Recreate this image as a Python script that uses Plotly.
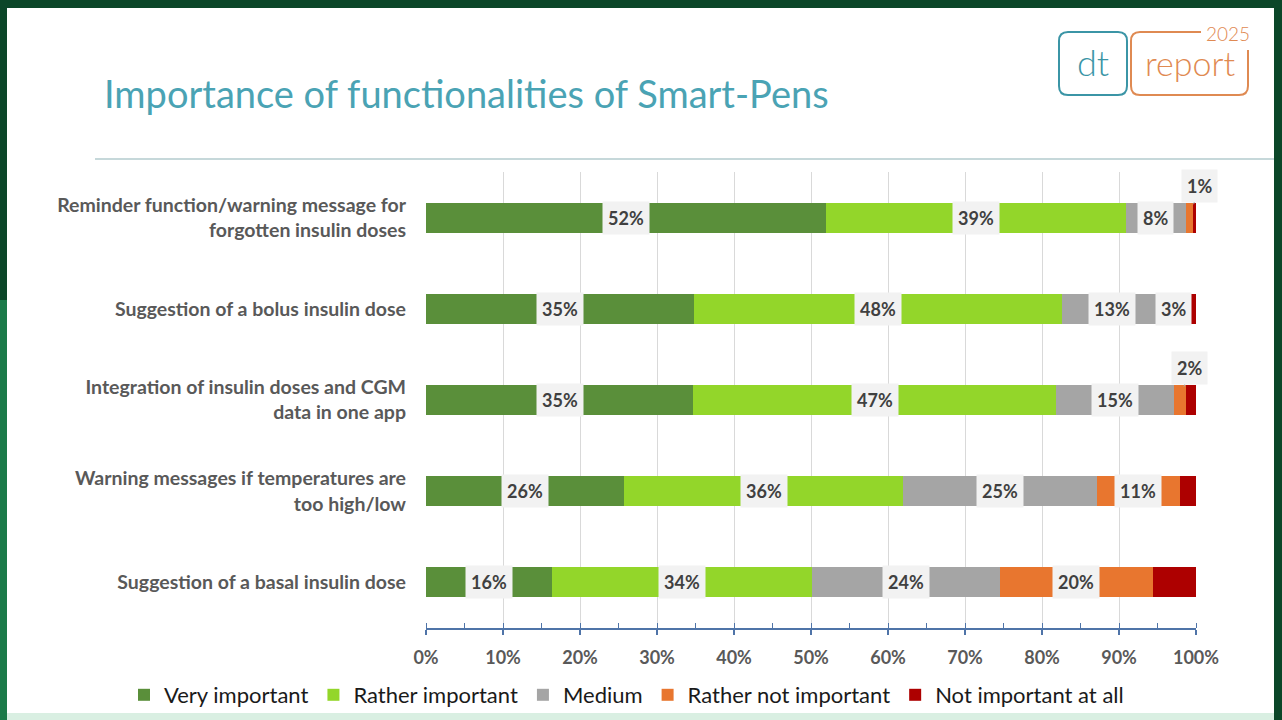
import plotly.graph_objects as go

# --- data (percent of respondents) ---
categories = [
    "Reminder function/warning message for<br>forgotten insulin doses",
    "Suggestion of a bolus insulin dose",
    "Integration of insulin doses and CGM<br>data in one app",
    "Warning messages if temperatures are<br>too high/low",
    "Suggestion of a basal insulin dose",
]
series_names = ["Very important", "Rather important", "Medium",
                "Rather not important", "Not important at all"]
very_important = [51.9, 34.8, 34.7, 25.7, 16.4]
rather_important = [39.0, 47.8, 47.1, 36.3, 33.7]
medium = [7.8, 13.0, 15.3, 25.1, 24.4]
rather_not_important = [0.9, 3.0, 1.6, 10.8, 19.9]
not_important_at_all = [0.4, 1.4, 1.3, 2.1, 5.6]
x_ticks = [0, 10, 20, 30, 40, 50, 60, 70, 80, 90, 100]
x_tick_labels = [f"{t}%" for t in x_ticks]

series = [very_important, rather_important, medium,
          rather_not_important, not_important_at_all]
colors = ["#5a8f3a", "#93d62a", "#a5a5a5", "#e8762f", "#ad0000"]
labelled = [True, True, True, True, False]

# page geometry (pixels)
W, H = 1282, 720
L, R, T, B = 426, 86, 172, 92
PW, PH = W - L - R, H - T - B


def px(x):
    return (x - L) / PW


def py(y):
    return (H - B - y) / PH


def rounded_path(x0, y0, x1, y1, r):
    # closed rounded rectangle in paper coords
    p = f"M {px(x0 + r)},{py(y0)} L {px(x1 - r)},{py(y0)} Q {px(x1)},{py(y0)} {px(x1)},{py(y0 + r)} "
    p += f"L {px(x1)},{py(y1 - r)} Q {px(x1)},{py(y1)} {px(x1 - r)},{py(y1)} "
    p += f"L {px(x0 + r)},{py(y1)} Q {px(x0)},{py(y1)} {px(x0)},{py(y1 - r)} "
    p += f"L {px(x0)},{py(y0 + r)} Q {px(x0)},{py(y0)} {px(x0 + r)},{py(y0)} Z"
    return p


fig = go.Figure()
for name, vals, col in zip(series_names, series, colors):
    fig.add_trace(go.Bar(
        y=categories, x=vals, name=name, orientation="h",
        marker=dict(color=col, line=dict(width=0)),
        hoverinfo="x+name",
    ))

# data labels in light boxes
annotations = []
for i, cat in enumerate(categories):
    start = 0
    for s, vals in enumerate(series):
        v = vals[i]
        if labelled[s]:
            small = v < 2.5
            annotations.append(dict(
                x=start + v / 2, y=cat, xref="x", yref="y",
                text=f"{round(v)}%", bgcolor="#f2f2f2", borderpad=5,
                font=dict(family="Lato", size=18, color="#404040", weight="bold"),
                showarrow=small, arrowhead=0, arrowwidth=1, arrowcolor="#a6a6a6",
                ax=10, ay=-32, standoff=14,
            ))
        start += v

# title and logo texts
annotations += [
    dict(x=px(102), y=py(93), xref="paper", yref="paper", xanchor="left", yanchor="middle",
         text="Importance of functionalities of Smart-Pens", showarrow=False,
         font=dict(family="Lato", size=38, color="#4aa3b4", weight=400)),
    dict(x=px(1093), y=py(62), xref="paper", yref="paper", xanchor="center", yanchor="middle",
         text="dt", showarrow=False, font=dict(family="Lato", size=36, color="#3b95a6", weight=300)),
    dict(x=px(1190), y=py(62), xref="paper", yref="paper", xanchor="center", yanchor="middle",
         text="report", showarrow=False, font=dict(family="Lato", size=34, color="#df8a52", weight=300)),
    dict(x=px(1228), y=py(33), xref="paper", yref="paper", xanchor="center", yanchor="middle",
         text="2025", showarrow=False, font=dict(family="Lato", size=19, color="#df8a52", weight=300)),
]

# orange "report" box: open at top right for the year
orange_path = (f"M {px(1201)},{py(32)} L {px(1140)},{py(32)} Q {px(1131)},{py(32)} {px(1131)},{py(41)} "
               f"L {px(1131)},{py(86)} Q {px(1131)},{py(95)} {px(1140)},{py(95)} "
               f"L {px(1239)},{py(95)} Q {px(1248)},{py(95)} {px(1248)},{py(86)} L {px(1248)},{py(50)}")

shapes = [
    # white slide on the green frame
    dict(type="rect", xref="paper", yref="paper", x0=px(7), x1=px(1274), y0=py(8), y1=py(713),
         fillcolor="white", line=dict(width=0), layer="below"),
    dict(type="rect", xref="paper", yref="paper", x0=px(0), x1=px(7), y0=py(300), y1=py(720),
         fillcolor="#1b7a49", line=dict(width=0), layer="below"),
    dict(type="rect", xref="paper", yref="paper", x0=px(7), x1=px(1274), y0=py(713), y1=py(720),
         fillcolor="#d9efe2", line=dict(width=0), layer="below"),
    # rule under the title
    dict(type="line", xref="paper", yref="paper", x0=px(95), x1=px(1274), y0=py(159), y1=py(159),
         line=dict(color="#8db2b6", width=1.2)),
    # logo boxes
    dict(type="path", xref="paper", yref="paper", path=rounded_path(1059, 32, 1127, 95, 9),
         line=dict(color="#3b95a6", width=2)),
    dict(type="path", xref="paper", yref="paper", path=orange_path,
         line=dict(color="#df8a52", width=2)),
]

fig.update_layout(
    width=W, height=H,
    margin=dict(l=L, r=R, t=T, b=B, autoexpand=False),
    paper_bgcolor="#0b4628",
    plot_bgcolor="rgba(0,0,0,0)",
    barmode="stack",
    bargap=0.67,
    showlegend=True,
    legend=dict(orientation="h", x=px(124), y=py(695), xanchor="left", yanchor="middle",
                font=dict(family="Lato", size=22, color="#1a1a1a"),
                bgcolor="rgba(0,0,0,0)", traceorder="normal", itemclick=False),
    annotations=annotations,
    shapes=shapes,
    font=dict(family="Lato"),
)
fig.update_xaxes(
    range=[0, 100], tickmode="array", tickvals=x_ticks, ticktext=x_tick_labels,
    showgrid=True, gridcolor="#d9d9d9", gridwidth=1, zeroline=False,
    showline=True, linecolor="#4f74a8", linewidth=1.5,
    ticks="outside", ticklen=5, tickcolor="#4f74a8", tickwidth=1.5,
    minor=dict(dtick=5, ticks="inside", ticklen=5, tickcolor="#4f74a8", tickwidth=1.2, showgrid=False),
    tickfont=dict(family="Lato", size=18, color="#595959", weight="bold"),
    ticklabelstandoff=8,
    fixedrange=True,
)
fig.update_yaxes(
    autorange="reversed", showgrid=False, zeroline=False, showline=False,
    ticks="", ticklabelstandoff=19,
    tickfont=dict(family="Lato", size=19.5, color="#595959", weight="bold"),
    fixedrange=True,
)

# drop the page's default body margin so the figure fills the window
fig.write_html("out.html", config={"displayModeBar": False},
               post_script="document.body.style.margin='0';")
